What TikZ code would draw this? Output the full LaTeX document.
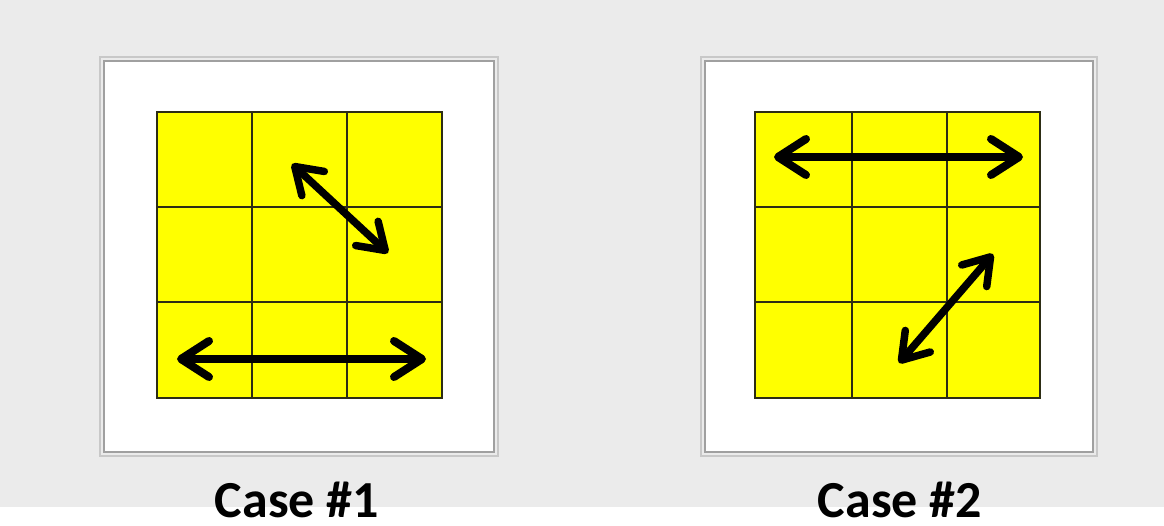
\documentclass[tikz,border=0pt]{standalone}
\usepackage{fontspec}
\setmainfont{Carlito}
\usetikzlibrary{arrows.meta}
\definecolor{bg}{RGB}{235,235,235}
\definecolor{cellY}{RGB}{255,255,0}
\definecolor{gridc}{RGB}{45,45,20}
\definecolor{frameA}{RGB}{200,200,200}
\definecolor{frameB}{RGB}{160,160,160}
\tikzset{
  panel/.style={draw=frameB, line width=1.5pt, fill=white},
  panelouter/.style={draw=frameA, line width=1.5pt},
  gridline/.style={draw=gridc, line width=1.8pt},
  gridborder/.style={draw=gridc, line width=2.8pt, fill=cellY},
  dblarrow/.style={line width=8pt, line cap=round, line join=round,
    {Straight Barb[length=28pt,width=36pt,line cap=round,line join=round]}-{Straight Barb[length=28pt,width=36pt,line cap=round,line join=round]}},
  dblarrowS/.style={line width=7.5pt, line cap=round, line join=round,
    {Straight Barb[length=25pt,width=33pt,line cap=round,line join=round]}-{Straight Barb[length=25pt,width=33pt,line cap=round,line join=round]}},
  caselabel/.style={font=\bfseries\fontsize{52}{60}\selectfont, anchor=base, inner sep=0pt, text depth=0pt}
}
\begin{document}
\begin{tikzpicture}[x=1pt,y=-1pt]
\useasboundingbox (0,0) rectangle (1164,526);
\fill[white] (0,0) rectangle (1164,526);
\fill[bg] (0,0) rectangle (1164,507);
% ---- Case 1 ----
\draw[panelouter] (100,57) rectangle (498,456);
\draw[panel] (104,61) rectangle (494,452);
\draw[gridborder] (157,112) rectangle (442,398);
\draw[gridline] (252,112) -- (252,398);
\draw[gridline] (347,112) -- (347,398);
\draw[gridline] (157,207) -- (442,207);
\draw[gridline] (157,302) -- (442,302);
\coordinate (a1) at (177,359);
\coordinate (b1) at (426,359);
\coordinate (c1) at (292,164);
\coordinate (d1) at (388,253);
\draw[dblarrow] (a1) -- (b1);
\draw[dblarrowS] (c1) -- (d1);
\node[caselabel] (l1) at (297,517) {Case \#1};
% ---- Case 2 ----
\draw[panelouter] (701,57) rectangle (1097,456);
\draw[panel] (705,61) rectangle (1093,452);
\draw[gridborder] (755,112) rectangle (1040,398);
\draw[gridline] (852,112) -- (852,398);
\draw[gridline] (947,112) -- (947,398);
\draw[gridline] (755,207) -- (1040,207);
\draw[gridline] (755,302) -- (1040,302);
\coordinate (a2) at (774,157);
\coordinate (b2) at (1023,157);
\coordinate (c2) at (993,254);
\coordinate (d2) at (899,363);
\draw[dblarrow] (a2) -- (b2);
\draw[dblarrowS] (c2) -- (d2);
\node[caselabel] (l2) at (900,517) {Case \#2};
\end{tikzpicture}
\end{document}
